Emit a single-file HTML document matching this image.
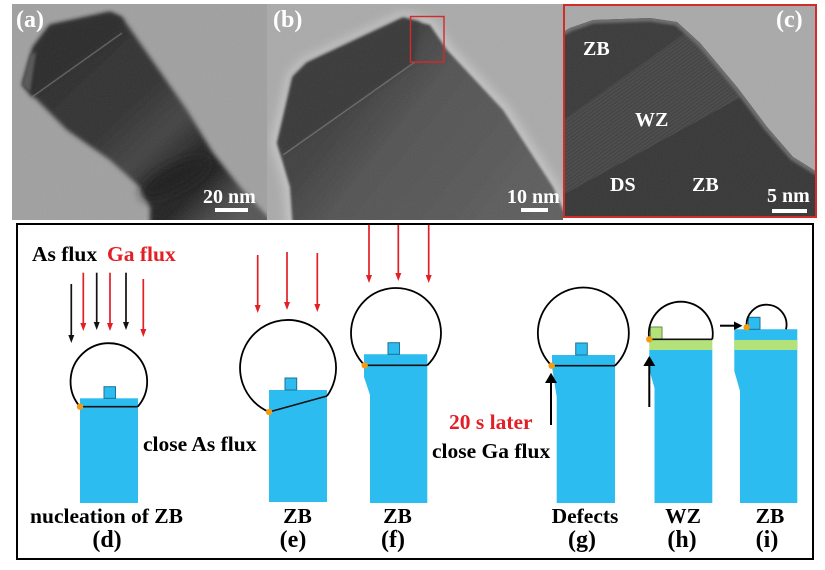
<!DOCTYPE html>
<html>
<head>
<meta charset="utf-8">
<style>
  html,body{margin:0;padding:0;background:#fff;}
  svg{display:block;}
  .lb{font-family:"Liberation Serif",serif;font-weight:bold;}
</style>
</head>
<body>
<svg width="825" height="570" viewBox="0 0 825 570" xmlns="http://www.w3.org/2000/svg">
<defs>
  <clipPath id="cA"><rect x="12" y="4" width="255" height="216"/></clipPath>
  <clipPath id="cB"><rect x="267" y="4" width="296" height="216"/></clipPath>
  <clipPath id="cC"><rect x="563" y="4" width="254" height="214"/></clipPath>
  <clipPath id="cCr"><polygon points="563,32 570,28 593,20 650,18 677,22 700,43 737,87 767,127 793,157 817,172 817,218 563,218"/></clipPath>
  <filter id="b1" x="-20%" y="-20%" width="140%" height="140%"><feGaussianBlur stdDeviation="1.2"/></filter>
  <filter id="b2" x="-20%" y="-20%" width="140%" height="140%"><feGaussianBlur stdDeviation="2"/></filter>
  <filter id="b5" x="-30%" y="-30%" width="160%" height="160%"><feGaussianBlur stdDeviation="5"/></filter>
  <filter id="b8" x="-50%" y="-50%" width="200%" height="200%"><feGaussianBlur stdDeviation="8"/></filter>
  <filter id="noise"><feTurbulence type="fractalNoise" baseFrequency="0.85" numOctaves="1" seed="3"/><feColorMatrix type="saturate" values="0"/></filter>
  <linearGradient id="gA" gradientUnits="userSpaceOnUse" x1="55" y1="35" x2="235" y2="225">
    <stop offset="0" stop-color="#2e2e2e"/>
    <stop offset="0.38" stop-color="#313131"/>
    <stop offset="0.56" stop-color="#444"/>
    <stop offset="0.7" stop-color="#262626"/>
    <stop offset="0.8" stop-color="#232323"/>
    <stop offset="0.92" stop-color="#4a4a4a"/>
    <stop offset="1" stop-color="#555"/>
  </linearGradient>
  <linearGradient id="gB" gradientUnits="userSpaceOnUse" x1="300" y1="40" x2="530" y2="225">
    <stop offset="0" stop-color="#3a3a3a"/>
    <stop offset="0.3" stop-color="#424242"/>
    <stop offset="0.45" stop-color="#525252"/>
    <stop offset="1" stop-color="#5e5e5e"/>
  </linearGradient>
  <pattern id="fr" patternUnits="userSpaceOnUse" width="3" height="3" patternTransform="rotate(-35)">
    <rect width="3" height="3" fill="#414141"/>
    <rect width="3" height="1.2" fill="#4e4e4e"/>
  </pattern>
</defs>

<rect width="825" height="570" fill="#fff"/>

<!-- Panel (a) -->
<g clip-path="url(#cA)">
  <rect x="12" y="4" width="255" height="216" fill="#a0a0a0"/>
  <polygon points="22,85 33,47 50,25 110,12 122,17 140,43 187,110 213,153 240,187 285,235 150,235 150,207 140,187 110,160 67,130" fill="url(#gA)" filter="url(#b2)"/>
  <polygon points="24,84 34,48 50,26 110,13 121,18 124,32 32,97" fill="#2b2b2b" filter="url(#b2)"/>
  <polygon points="22,85 30,55 36,52 30,92" fill="#555" filter="url(#b1)"/>
  <line x1="32" y1="97" x2="122" y2="33" stroke="#7c7c7c" stroke-width="1.5" opacity="0.6"/>
  <ellipse cx="175" cy="178" rx="38" ry="13" transform="rotate(-28 175 178)" fill="#1c1c1c" filter="url(#b5)"/>
  <rect x="12" y="4" width="255" height="216" filter="url(#noise)" opacity="0.1"/>
  <text x="16" y="27" class="lb" font-family="Liberation Serif, serif" font-weight="bold" font-size="24" fill="#fff">(a)</text>
  <text x="203" y="203" class="lb" font-family="Liberation Serif, serif" font-weight="bold" font-size="20" fill="#fff">20 nm</text>
  <rect x="215" y="208" width="33" height="4" fill="#fff"/>
</g>

<!-- Panel (b) -->
<g clip-path="url(#cB)">
  <rect x="267" y="4" width="296" height="216" fill="#aaaaaa"/>
  <polygon points="277,143 293,77 307,63 403,18 430,25 447,50 503,110 553,187 572,230 293,230 290,187" fill="none" stroke="#c6c6c6" stroke-width="12" filter="url(#b5)"/>
  <polygon points="277,143 293,77 307,63 403,18 430,25 447,50 503,110 553,187 572,230 293,230 290,187" fill="url(#gB)" filter="url(#b1)"/>
  <polygon points="279,143 293,77 307,63 403,18 420,22 414,63 283,155" fill="#393939" filter="url(#b2)"/>
  <line x1="283" y1="155" x2="415" y2="62" stroke="#666" stroke-width="1.5"/>
  <rect x="267" y="4" width="296" height="216" filter="url(#noise)" opacity="0.1"/>
  <rect x="410.5" y="16.5" width="33.5" height="45.5" fill="none" stroke="#d32a2a" stroke-width="1.4"/>
  <text x="273" y="27" class="lb" font-family="Liberation Serif, serif" font-weight="bold" font-size="24" fill="#fff">(b)</text>
  <text x="507" y="203" class="lb" font-family="Liberation Serif, serif" font-weight="bold" font-size="20" fill="#fff">10 nm</text>
  <rect x="521" y="208" width="27" height="4" fill="#fff"/>
</g>

<!-- Panel (c) -->
<g clip-path="url(#cC)">
  <rect x="563" y="4" width="254" height="214" fill="#a9a9a9"/>
  <polygon points="563,32 570,28 593,20 650,18 677,22 700,43 737,87 767,127 793,157 817,172 817,218 563,218" fill="#393939"/>
  <g clip-path="url(#cCr)">
    <polygon points="563,120 690,30 760,110 563,195" fill="url(#fr)" opacity="0.85"/>
    <polygon points="563,195 745,95 817,175 817,218 563,218" fill="#363636"/>
    <polyline points="563,32 570,28 593,20 650,18 677,22 700,43 737,87 767,127 793,157 817,172" fill="none" stroke="#6a6a6a" stroke-width="7" filter="url(#b1)"/>
  </g>
  <rect x="563" y="4" width="254" height="214" filter="url(#noise)" opacity="0.1"/>
  <g class="lb" font-family="Liberation Serif, serif" font-weight="bold" fill="#fff">
    <text x="583" y="55" font-size="20">ZB</text>
    <text x="635" y="126" font-size="20">WZ</text>
    <text x="610" y="191" font-size="20">DS</text>
    <text x="692" y="191" font-size="20">ZB</text>
    <text x="776" y="27" font-size="24">(c)</text>
    <text x="767" y="202" font-size="20">5 nm</text>
  </g>
  <rect x="772" y="209" width="35" height="4" fill="#fff"/>
</g>
<rect x="564" y="5" width="252" height="212" fill="none" stroke="#d32a2a" stroke-width="2"/>

<!-- Diagram frame -->
<rect x="17" y="224" width="796" height="335" fill="none" stroke="#000" stroke-width="2"/>

<!-- text -->
<g class="lb" font-family="Liberation Serif, serif" font-weight="bold" font-size="21.5">
  <text x="32" y="261" fill="#000">As flux</text>
  <text x="107" y="261" fill="#e21f26">Ga flux</text>
  <text x="143" y="451" fill="#000">close As flux</text>
  <text x="449" y="429" fill="#e21f26">20 s later</text>
  <text x="432" y="458" fill="#000">close Ga flux</text>
  <text x="106.5" y="523" text-anchor="middle">nucleation of ZB</text>
  <text x="297.5" y="523" text-anchor="middle">ZB</text>
  <text x="397.5" y="523" text-anchor="middle">ZB</text>
  <text x="585" y="523" text-anchor="middle">Defects</text>
  <text x="683" y="523" text-anchor="middle">WZ</text>
  <text x="770" y="523" text-anchor="middle">ZB</text>
</g>
<g class="lb" font-family="Liberation Serif, serif" font-weight="bold" font-size="24" text-anchor="middle">
  <text x="107" y="547">(d)</text>
  <text x="293" y="547">(e)</text>
  <text x="393" y="547">(f)</text>
  <text x="582" y="547">(g)</text>
  <text x="682" y="547">(h)</text>
  <text x="767" y="547">(i)</text>
</g>

<!-- flux arrows -->
<g stroke-width="1.7">
  <line x1="71.3" y1="284" x2="71.3" y2="336" stroke="#111"/>
  <polygon points="68.3,335 74.3,335 71.3,343" fill="#111"/>
  <line x1="83.3" y1="272.7" x2="83.3" y2="324" stroke="#e21f26"/>
  <polygon points="80.3,323 86.3,323 83.3,331" fill="#e21f26"/>
  <line x1="96.7" y1="272.7" x2="96.7" y2="323" stroke="#111"/>
  <polygon points="93.7,322 99.7,322 96.7,330" fill="#111"/>
  <line x1="110" y1="272.7" x2="110" y2="324" stroke="#e21f26"/>
  <polygon points="107,323 113,323 110,331" fill="#e21f26"/>
  <line x1="126" y1="272.7" x2="126" y2="323" stroke="#111"/>
  <polygon points="123,322 129,322 126,330" fill="#111"/>
  <line x1="143.3" y1="279" x2="143.3" y2="330" stroke="#e21f26"/>
  <polygon points="140.3,329 146.3,329 143.3,337" fill="#e21f26"/>

  <line x1="257.7" y1="255" x2="257.7" y2="306" stroke="#e21f26"/>
  <polygon points="254.7,305 260.7,305 257.7,313" fill="#e21f26"/>
  <line x1="287" y1="252" x2="287" y2="303" stroke="#e21f26"/>
  <polygon points="284,302 290,302 287,310" fill="#e21f26"/>
  <line x1="317.3" y1="253" x2="317.3" y2="305" stroke="#e21f26"/>
  <polygon points="314.3,304 320.3,304 317.3,312" fill="#e21f26"/>

  <line x1="369" y1="225" x2="369" y2="276" stroke="#e21f26"/>
  <polygon points="366,275 372,275 369,283" fill="#e21f26"/>
  <line x1="398.3" y1="225" x2="398.3" y2="274" stroke="#e21f26"/>
  <polygon points="395.3,273 401.3,273 398.3,281" fill="#e21f26"/>
  <line x1="428.7" y1="225" x2="428.7" y2="276" stroke="#e21f26"/>
  <polygon points="425.7,275 431.7,275 428.7,283" fill="#e21f26"/>
</g>

<!-- (d) -->
<rect x="80" y="398.3" width="58" height="104.7" fill="#2dbcef"/>
<rect x="104" y="386.7" width="11.5" height="11.6" fill="#2dbcef" stroke="#1f6f96" stroke-width="1"/>
<line x1="80" y1="406.7" x2="137.7" y2="406.7" stroke="#111" stroke-width="1.6"/>
<path d="M80 406.7 A38.3 38.3 0 1 1 137.7 406.7" fill="none" stroke="#000" stroke-width="1.8"/>
<circle cx="80" cy="406.7" r="3.2" fill="#f39c12"/>

<!-- (e) -->
<rect x="269" y="390" width="58" height="112" fill="#2dbcef"/>
<rect x="285" y="378" width="11.7" height="12" fill="#2dbcef" stroke="#1f6f96" stroke-width="1"/>
<line x1="269" y1="412" x2="327" y2="396" stroke="#111" stroke-width="1.6"/>
<path d="M269 412 A48 48 0 1 1 327 396" fill="none" stroke="#000" stroke-width="1.8"/>
<circle cx="269" cy="412" r="3.2" fill="#f39c12"/>

<!-- (f) -->
<polygon points="364,354.3 427.3,354.3 427.3,503 370,503 370,395 364,377" fill="#2dbcef"/>
<rect x="388" y="342.7" width="11.5" height="11.6" fill="#2dbcef" stroke="#1f6f96" stroke-width="1"/>
<line x1="364.7" y1="365.3" x2="427.3" y2="365.3" stroke="#111" stroke-width="1.6"/>
<path d="M364.7 365.3 A45 45 0 1 1 427.3 365.3" fill="none" stroke="#000" stroke-width="1.8"/>
<circle cx="364.7" cy="365.3" r="3.2" fill="#f39c12"/>

<!-- (g) -->
<polygon points="552,355 615,355 615,503 556.7,503 556.7,397 552,367" fill="#2dbcef"/>
<rect x="575.7" y="343" width="11.6" height="12" fill="#2dbcef" stroke="#1f6f96" stroke-width="1"/>
<line x1="551.7" y1="365.7" x2="615" y2="365.7" stroke="#111" stroke-width="1.6"/>
<path d="M551.7 365.7 A45.5 45.5 0 1 1 615 365.7" fill="none" stroke="#000" stroke-width="1.8"/>
<circle cx="551.7" cy="365.7" r="3.2" fill="#f39c12"/>
<line x1="551" y1="425" x2="551" y2="380" stroke="#000" stroke-width="2"/>
<polygon points="545,383 557,383 551,372.7" fill="#000"/>

<!-- (h) -->
<polygon points="649.3,350 712.3,350 712.3,503 654.5,503 654.5,388 649.3,370" fill="#2dbcef"/>
<rect x="649.3" y="339.3" width="63" height="10.7" fill="#b3e27a"/>
<rect x="650.5" y="327" width="11.5" height="12.3" fill="#b3e27a" stroke="#6b8a45" stroke-width="1"/>
<line x1="649.3" y1="339.3" x2="712.3" y2="339.3" stroke="#111" stroke-width="1.6"/>
<path d="M649.3 339.3 A32 32 0 1 1 712.3 339.3" fill="none" stroke="#000" stroke-width="1.8"/>
<circle cx="649.3" cy="339.3" r="3.2" fill="#f39c12"/>
<line x1="649.3" y1="407" x2="649.3" y2="364" stroke="#000" stroke-width="2"/>
<polygon points="643.3,366 655.3,366 649.3,356" fill="#000"/>

<!-- (i) -->
<polygon points="734.3,329.3 797.3,329.3 797.3,503 740,503 740,391 734.3,371" fill="#2dbcef"/>
<rect x="734.3" y="340" width="63" height="10" fill="#b3e27a"/>
<rect x="748.3" y="317.3" width="11.7" height="12" fill="#2dbcef" stroke="#1f6f96" stroke-width="1"/>
<path d="M746.7 327.3 A20 20 0 1 1 786 329.3" fill="none" stroke="#000" stroke-width="1.8"/>
<circle cx="746.7" cy="327.3" r="3.2" fill="#f39c12"/>
<line x1="720" y1="325.7" x2="735" y2="325.7" stroke="#000" stroke-width="2"/>
<polygon points="734,321.5 734,330 742.5,325.7" fill="#000"/>

</svg>
</body>
</html>
